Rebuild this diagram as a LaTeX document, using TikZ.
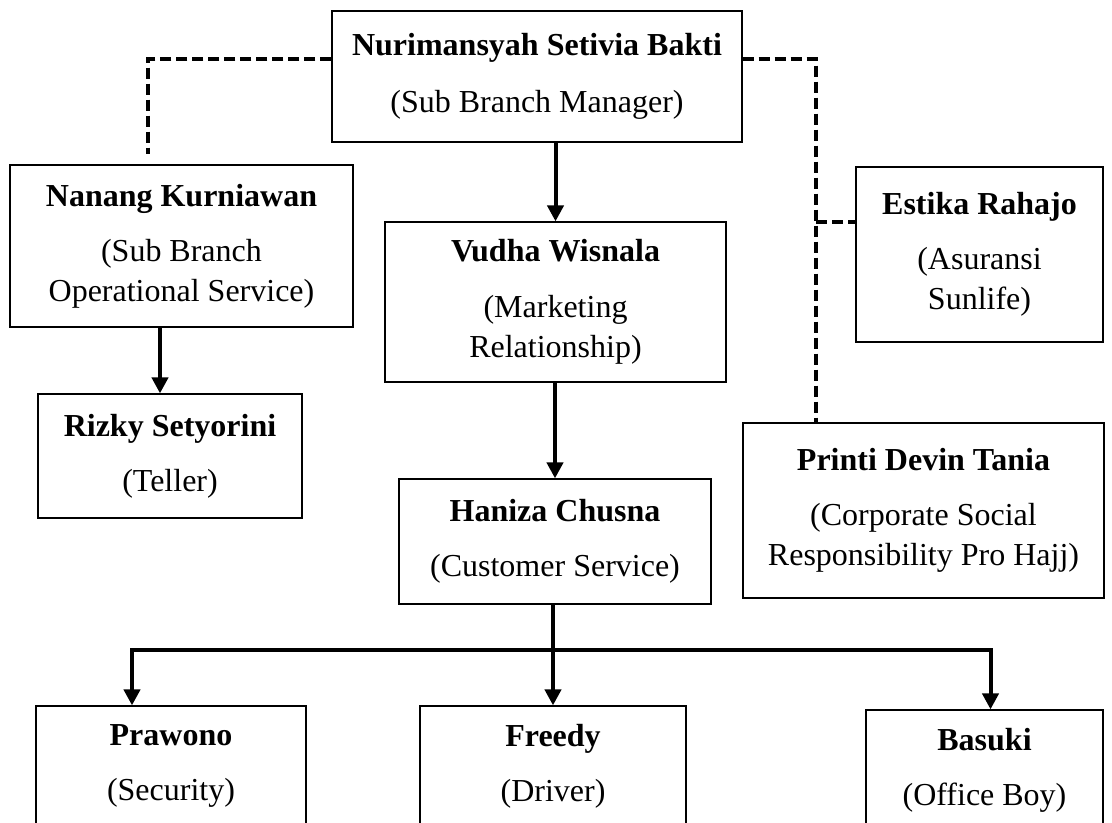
\documentclass[tikz,border=0pt]{standalone}
\usepackage{fontspec}
\setmainfont{Liberation Serif}
\usetikzlibrary{arrows.meta,positioning,calc}

\begin{document}
\begin{tikzpicture}[
    x=0.5pt, y=-0.5pt,
    box/.style={draw, line width=0.6pt, inner sep=0pt, align=center, font=\fontsize{16}{20}\selectfont},
    arr/.style={-{Triangle[length=8pt, width=8pt]}, line width=2pt},
    dashline/.style={line width=2pt, dash pattern=on 5.5pt off 2.5pt},
]
\useasboundingbox (0,0) rectangle (1112,823);
% Head
\node[box, minimum width=205pt, minimum height=65.5pt] (head) at (537,76.5) {\textbf{Nurimansyah Setivia Bakti}\\[8.5pt](Sub Branch Manager)};
% Left branch
\node[box, minimum width=171.5pt, minimum height=81pt] (nanang) at (181.5,246) {\textbf{Nanang Kurniawan}\\[7.5pt](Sub Branch\\Operational Service)};
\node[box, minimum width=132pt, minimum height=62pt] (rizky) at (170,456) {\textbf{Rizky Setyorini}\\[7.5pt](Teller)};
% Middle branch
\node[box, minimum width=170.5pt, minimum height=80pt] (vudha) at (555.5,302) {\textbf{Vudha Wisnala}\\[8pt](Marketing\\Relationship)};
\node[box, minimum width=156pt, minimum height=62.5pt] (haniza) at (555,541.5) {\textbf{Haniza Chusna}\\[7.5pt](Customer Service)};
% Right branch
\node[box, minimum width=123.5pt, minimum height=87.5pt] (estika) at (979.5,254.5) {\textbf{Estika Rahajo}\\[7.5pt](Asuransi\\Sunlife)};
\node[box, minimum width=180.5pt, minimum height=87.5pt] (printi) at (923.5,510.5) {\textbf{Printi Devin Tania}\\[7.5pt](Corporate Social\\Responsibility Pro Hajj)};
% Bottom row
\node[box, minimum width=135pt, minimum height=60pt] (prawono) at (171,766) {\textbf{Prawono}\\[7.5pt](Security)};
\node[box, minimum width=133pt, minimum height=60pt] (freedy) at (553,766) {\textbf{Freedy}\\[7.5pt](Driver)};
\node[box, minimum width=118.5pt, minimum height=60pt] (basuki) at (984.5,770) {\textbf{Basuki}\\[7.5pt](Office Boy)};
% Solid lines
\draw[arr] (vudha.north |- head.south) -- (vudha.north);
\coordinate (rz) at ([xshift=-5pt]rizky.north);
\draw[arr] (rz |- nanang.south) -- (rz);
\draw[arr] (haniza.north |- vudha.south) -- (haniza.north);
\draw[arr] (freedy.north |- haniza.south) -- (freedy.north);
\coordinate (bus) at (553,650);
\coordinate (pw) at ([xshift=-19.5pt]prawono.north);
\coordinate (bs) at ([xshift=3pt]basuki.north);
\draw[arr] (bus) -| (pw);
\draw[arr] (bus) -| (bs);
% Dashed lines
\coordinate (nk) at ([xshift=-16.75pt, yshift=5pt]nanang.north);
\draw[dashline] ([yshift=8.75pt]head.west) -| (nk);
\coordinate (pd) at ([xshift=-53.75pt]printi.north);
\draw[dashline] ([yshift=8.75pt]head.east) -| (pd);
\coordinate (es) at ([yshift=16.25pt]estika.west);
\draw[dashline] (pd |- es) -- (es);
\end{tikzpicture}
\end{document}
